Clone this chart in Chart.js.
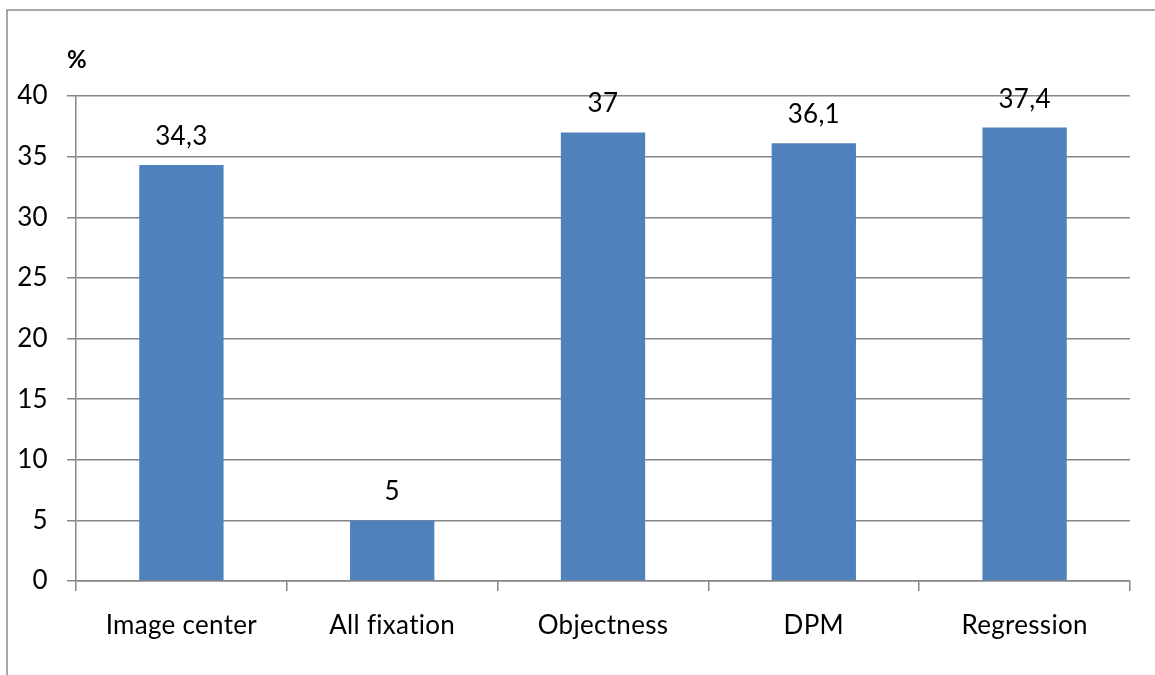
<!DOCTYPE html>
<html>
<head>
<meta charset="utf-8">
<script src="https://cdn.jsdelivr.net/npm/chart.js@4.4.1/dist/chart.umd.min.js"></script>
<style>
  html, body { margin: 0; padding: 0; background: #fff; }
  #wrap { position: relative; width: 1155px; height: 675px; }
</style>
</head>
<body>
<div id="wrap"><canvas id="chart" width="1155" height="675"></canvas></div>
<script>
// Method names along the x axis
const categories = ['Image center', 'All fixation', 'Objectness', 'DPM', 'Regression'];
// Score per method, in percent
const scores = [34.3, 5, 37, 36.1, 37.4];
// Y axis range and step
const yMin = 0;
const yMax = 40;
const yStep = 5;
const yUnit = '%';

const FONT = 'Lato, "Open Sans", sans-serif';
const GRID = '#868686';
const BAR = '#4F81BD';

// Plain glyphs only (no "fi" ligature) for all canvas text
const textSetup = {
  id: 'textSetup',
  beforeDraw(chart) {
    const ctx = chart.ctx;
    if ('textRendering' in ctx) ctx.textRendering = 'optimizeSpeed';
    if ('letterSpacing' in ctx) ctx.letterSpacing = '0.3px';
  }
};

// Outer frame around the chart and the unit caption above the y axis
const framePlugin = {
  id: 'frame',
  afterDraw(chart) {
    const ctx = chart.ctx;
    ctx.save();
    ctx.strokeStyle = '#8a8a8a';
    ctx.lineWidth = 1.5;
    ctx.beginPath();
    ctx.moveTo(7, chart.height);
    ctx.lineTo(7, 10);
    ctx.lineTo(chart.width, 10);
    ctx.stroke();
    ctx.fillStyle = '#000';
    ctx.font = 'bold 24px ' + FONT;
    ctx.textAlign = 'left';
    ctx.textBaseline = 'alphabetic';
    ctx.fillText(yUnit, 67, 68);
    ctx.restore();
  }
};

// Value labels above each bar, comma as decimal separator
const valueLabels = {
  id: 'valueLabels',
  afterDatasetsDraw(chart) {
    const ctx = chart.ctx;
    const meta = chart.getDatasetMeta(0);
    ctx.save();
    ctx.fillStyle = '#000';
    ctx.font = '26px ' + FONT;
    ctx.textAlign = 'center';
    ctx.textBaseline = 'alphabetic';
    meta.data.forEach((bar, i) => {
      const txt = String(chart.data.datasets[0].data[i]).replace('.', ',');
      ctx.fillText(txt, bar.x, bar.y - 20);
    });
    ctx.restore();
  }
};

new Chart(document.getElementById('chart'), {
  type: 'bar',
  data: {
    labels: categories,
    datasets: [{
      data: scores,
      backgroundColor: BAR,
      borderWidth: 0,
      barPercentage: 0.4,
      categoryPercentage: 1.0
    }]
  },
  options: {
    responsive: false,
    animation: false,
    events: [],
    layout: { padding: { left: 0, right: 25, top: 96, bottom: 0 } },
    plugins: {
      legend: { display: false },
      tooltip: { enabled: false },
      title: { display: false }
    },
    scales: {
      x: {
        offset: true,
        grid: {
          offset: true,
          drawOnChartArea: false,
          drawTicks: true,
          tickLength: 10,
          color: GRID,
          lineWidth: 1.5
        },
        border: { display: true, color: GRID, width: 1.5 },
        ticks: {
          color: '#000',
          font: { family: FONT, size: 26 },
          padding: 19,
          maxRotation: 0,
          autoSkip: false
        },
        afterFit(scale) { scale.height = 94; }
      },
      y: {
        min: yMin,
        max: yMax,
        grid: {
          color: GRID,
          lineWidth: 1.5,
          drawTicks: true,
          tickLength: 9
        },
        border: { display: true, color: GRID, width: 1.5 },
        ticks: {
          stepSize: yStep,
          color: '#000',
          font: { family: FONT, size: 26 },
          padding: 19
        },
        afterFit(scale) { scale.width = 76; }
      }
    }
  },
  plugins: [textSetup, framePlugin, valueLabels]
});
</script>
</body>
</html>
